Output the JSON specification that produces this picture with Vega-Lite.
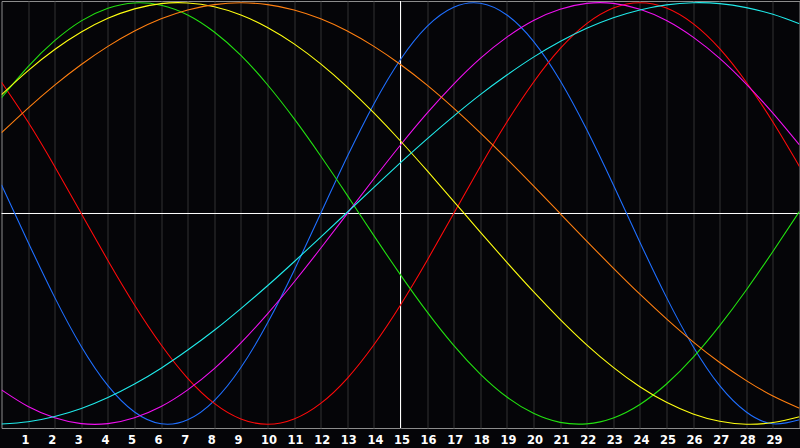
{
  "$schema": "https://vega.github.io/schema/vega-lite/v6.json",
  "width": 798,
  "height": 427,
  "autosize": {"type": "none"},
  "padding": {"left": 1.5, "top": 1, "right": 0.5, "bottom": 20},
  "background": "#050508",
  "config": {
    "view": {"stroke": "#8c8c8c", "strokeWidth": 1},
    "axisX": {
      "grid": true,
      "gridColor": "#333333",
      "gridWidth": 1,
      "domain": false,
      "ticks": false,
      "tickSize": 0,
      "labelPadding": 6,
      "labelAlign": "left",
      "labelOffset": -7,
      "labelColor": "#ffffff",
      "labelFont": "DejaVu Sans",
      "labelFontWeight": "bold",
      "labelFontSize": 11.5,
      "labelOverlap": false,
      "labelFlush": false,
      "labelBound": false,
      "title": null
    }
  },
  "datasets": {
    "cycles": [
      {"c":"physical","d":0,"v":0.136},{"c":"physical","d":1,"v":-0.136},{"c":"physical","d":2,"v":-0.398},{"c":"physical","d":3,"v":-0.631},{"c":"physical","d":4,"v":-0.817},{"c":"physical","d":5,"v":-0.942},{"c":"physical","d":6,"v":-0.998},{"c":"physical","d":7,"v":-0.979},{"c":"physical","d":8,"v":-0.888},{"c":"physical","d":9,"v":-0.731},{"c":"physical","d":10,"v":-0.520},{"c":"physical","d":11,"v":-0.270},{"c":"physical","d":12,"v":0.000},{"c":"physical","d":13,"v":0.270},{"c":"physical","d":14,"v":0.520},{"c":"physical","d":15,"v":0.731},{"c":"physical","d":16,"v":0.888},{"c":"physical","d":17,"v":0.979},{"c":"physical","d":18,"v":0.998},{"c":"physical","d":19,"v":0.942},{"c":"physical","d":20,"v":0.817},{"c":"physical","d":21,"v":0.631},{"c":"physical","d":22,"v":0.398},{"c":"physical","d":23,"v":0.136},{"c":"physical","d":24,"v":-0.136},{"c":"physical","d":25,"v":-0.398},{"c":"physical","d":26,"v":-0.631},{"c":"physical","d":27,"v":-0.817},{"c":"physical","d":28,"v":-0.942},{"c":"physical","d":29,"v":-0.998},{"c":"physical","d":30,"v":-0.979},
      {"c":"emotional","d":0,"v":0.623},{"c":"emotional","d":1,"v":0.434},{"c":"emotional","d":2,"v":0.223},{"c":"emotional","d":3,"v":0.000},{"c":"emotional","d":4,"v":-0.223},{"c":"emotional","d":5,"v":-0.434},{"c":"emotional","d":6,"v":-0.623},{"c":"emotional","d":7,"v":-0.782},{"c":"emotional","d":8,"v":-0.901},{"c":"emotional","d":9,"v":-0.975},{"c":"emotional","d":10,"v":-1.000},{"c":"emotional","d":11,"v":-0.975},{"c":"emotional","d":12,"v":-0.901},{"c":"emotional","d":13,"v":-0.782},{"c":"emotional","d":14,"v":-0.623},{"c":"emotional","d":15,"v":-0.434},{"c":"emotional","d":16,"v":-0.223},{"c":"emotional","d":17,"v":0.000},{"c":"emotional","d":18,"v":0.223},{"c":"emotional","d":19,"v":0.434},{"c":"emotional","d":20,"v":0.623},{"c":"emotional","d":21,"v":0.782},{"c":"emotional","d":22,"v":0.901},{"c":"emotional","d":23,"v":0.975},{"c":"emotional","d":24,"v":1.000},{"c":"emotional","d":25,"v":0.975},{"c":"emotional","d":26,"v":0.901},{"c":"emotional","d":27,"v":0.782},{"c":"emotional","d":28,"v":0.623},{"c":"emotional","d":29,"v":0.434},{"c":"emotional","d":30,"v":0.223},
      {"c":"intellectual","d":0,"v":0.549},{"c":"intellectual","d":1,"v":0.697},{"c":"intellectual","d":2,"v":0.820},{"c":"intellectual","d":3,"v":0.914},{"c":"intellectual","d":4,"v":0.974},{"c":"intellectual","d":5,"v":0.999},{"c":"intellectual","d":6,"v":0.988},{"c":"intellectual","d":7,"v":0.942},{"c":"intellectual","d":8,"v":0.861},{"c":"intellectual","d":9,"v":0.750},{"c":"intellectual","d":10,"v":0.611},{"c":"intellectual","d":11,"v":0.450},{"c":"intellectual","d":12,"v":0.273},{"c":"intellectual","d":13,"v":0.086},{"c":"intellectual","d":14,"v":-0.105},{"c":"intellectual","d":15,"v":-0.291},{"c":"intellectual","d":16,"v":-0.467},{"c":"intellectual","d":17,"v":-0.626},{"c":"intellectual","d":18,"v":-0.762},{"c":"intellectual","d":19,"v":-0.871},{"c":"intellectual","d":20,"v":-0.948},{"c":"intellectual","d":21,"v":-0.991},{"c":"intellectual","d":22,"v":-0.998},{"c":"intellectual","d":23,"v":-0.970},{"c":"intellectual","d":24,"v":-0.906},{"c":"intellectual","d":25,"v":-0.809},{"c":"intellectual","d":26,"v":-0.683},{"c":"intellectual","d":27,"v":-0.532},{"c":"intellectual","d":28,"v":-0.363},{"c":"intellectual","d":29,"v":-0.180},{"c":"intellectual","d":30,"v":0.010},
      {"c":"intuitive","d":0,"v":-0.837},{"c":"intuitive","d":1,"v":-0.916},{"c":"intuitive","d":2,"v":-0.969},{"c":"intuitive","d":3,"v":-0.997},{"c":"intuitive","d":4,"v":-0.997},{"c":"intuitive","d":5,"v":-0.969},{"c":"intuitive","d":6,"v":-0.916},{"c":"intuitive","d":7,"v":-0.837},{"c":"intuitive","d":8,"v":-0.736},{"c":"intuitive","d":9,"v":-0.614},{"c":"intuitive","d":10,"v":-0.476},{"c":"intuitive","d":11,"v":-0.325},{"c":"intuitive","d":12,"v":-0.165},{"c":"intuitive","d":13,"v":0.000},{"c":"intuitive","d":14,"v":0.165},{"c":"intuitive","d":15,"v":0.325},{"c":"intuitive","d":16,"v":0.476},{"c":"intuitive","d":17,"v":0.614},{"c":"intuitive","d":18,"v":0.736},{"c":"intuitive","d":19,"v":0.837},{"c":"intuitive","d":20,"v":0.916},{"c":"intuitive","d":21,"v":0.969},{"c":"intuitive","d":22,"v":0.997},{"c":"intuitive","d":23,"v":0.997},{"c":"intuitive","d":24,"v":0.969},{"c":"intuitive","d":25,"v":0.916},{"c":"intuitive","d":26,"v":0.837},{"c":"intuitive","d":27,"v":0.736},{"c":"intuitive","d":28,"v":0.614},{"c":"intuitive","d":29,"v":0.476},{"c":"intuitive","d":30,"v":0.325},
      {"c":"aesthetic","d":0,"v":0.564},{"c":"aesthetic","d":1,"v":0.678},{"c":"aesthetic","d":2,"v":0.778},{"c":"aesthetic","d":3,"v":0.861},{"c":"aesthetic","d":4,"v":0.926},{"c":"aesthetic","d":5,"v":0.971},{"c":"aesthetic","d":6,"v":0.996},{"c":"aesthetic","d":7,"v":0.999},{"c":"aesthetic","d":8,"v":0.981},{"c":"aesthetic","d":9,"v":0.942},{"c":"aesthetic","d":10,"v":0.883},{"c":"aesthetic","d":11,"v":0.805},{"c":"aesthetic","d":12,"v":0.710},{"c":"aesthetic","d":13,"v":0.600},{"c":"aesthetic","d":14,"v":0.477},{"c":"aesthetic","d":15,"v":0.344},{"c":"aesthetic","d":16,"v":0.203},{"c":"aesthetic","d":17,"v":0.058},{"c":"aesthetic","d":18,"v":-0.088},{"c":"aesthetic","d":19,"v":-0.232},{"c":"aesthetic","d":20,"v":-0.371},{"c":"aesthetic","d":21,"v":-0.502},{"c":"aesthetic","d":22,"v":-0.623},{"c":"aesthetic","d":23,"v":-0.730},{"c":"aesthetic","d":24,"v":-0.822},{"c":"aesthetic","d":25,"v":-0.896},{"c":"aesthetic","d":26,"v":-0.951},{"c":"aesthetic","d":27,"v":-0.986},{"c":"aesthetic","d":28,"v":-1.000},{"c":"aesthetic","d":29,"v":-0.992},{"c":"aesthetic","d":30,"v":-0.964},
      {"c":"awareness","d":0,"v":0.383},{"c":"awareness","d":1,"v":0.500},{"c":"awareness","d":2,"v":0.609},{"c":"awareness","d":3,"v":0.707},{"c":"awareness","d":4,"v":0.793},{"c":"awareness","d":5,"v":0.866},{"c":"awareness","d":6,"v":0.924},{"c":"awareness","d":7,"v":0.966},{"c":"awareness","d":8,"v":0.991},{"c":"awareness","d":9,"v":1.000},{"c":"awareness","d":10,"v":0.991},{"c":"awareness","d":11,"v":0.966},{"c":"awareness","d":12,"v":0.924},{"c":"awareness","d":13,"v":0.866},{"c":"awareness","d":14,"v":0.793},{"c":"awareness","d":15,"v":0.707},{"c":"awareness","d":16,"v":0.609},{"c":"awareness","d":17,"v":0.500},{"c":"awareness","d":18,"v":0.383},{"c":"awareness","d":19,"v":0.259},{"c":"awareness","d":20,"v":0.131},{"c":"awareness","d":21,"v":0.000},{"c":"awareness","d":22,"v":-0.131},{"c":"awareness","d":23,"v":-0.259},{"c":"awareness","d":24,"v":-0.383},{"c":"awareness","d":25,"v":-0.500},{"c":"awareness","d":26,"v":-0.609},{"c":"awareness","d":27,"v":-0.707},{"c":"awareness","d":28,"v":-0.793},{"c":"awareness","d":29,"v":-0.866},{"c":"awareness","d":30,"v":-0.924},
      {"c":"spiritual","d":0,"v":-0.999},{"c":"spiritual","d":1,"v":-0.988},{"c":"spiritual","d":2,"v":-0.963},{"c":"spiritual","d":3,"v":-0.925},{"c":"spiritual","d":4,"v":-0.873},{"c":"spiritual","d":5,"v":-0.809},{"c":"spiritual","d":6,"v":-0.734},{"c":"spiritual","d":7,"v":-0.648},{"c":"spiritual","d":8,"v":-0.554},{"c":"spiritual","d":9,"v":-0.451},{"c":"spiritual","d":10,"v":-0.343},{"c":"spiritual","d":11,"v":-0.229},{"c":"spiritual","d":12,"v":-0.112},{"c":"spiritual","d":13,"v":0.006},{"c":"spiritual","d":14,"v":0.124},{"c":"spiritual","d":15,"v":0.241},{"c":"spiritual","d":16,"v":0.354},{"c":"spiritual","d":17,"v":0.462},{"c":"spiritual","d":18,"v":0.564},{"c":"spiritual","d":19,"v":0.657},{"c":"spiritual","d":20,"v":0.742},{"c":"spiritual","d":21,"v":0.816},{"c":"spiritual","d":22,"v":0.879},{"c":"spiritual","d":23,"v":0.929},{"c":"spiritual","d":24,"v":0.966},{"c":"spiritual","d":25,"v":0.990},{"c":"spiritual","d":26,"v":1.000},{"c":"spiritual","d":27,"v":0.996},{"c":"spiritual","d":28,"v":0.977},{"c":"spiritual","d":29,"v":0.945},{"c":"spiritual","d":30,"v":0.900}
    ]
  },
  "layer": [
    {
      "data": {"values": [{"v": 0}]},
      "mark": {"type": "rule", "color": "#ffffff", "strokeWidth": 1},
      "encoding": {
        "y": {"field": "v", "type": "quantitative", "scale": {"domain": [-1.0178, 1.0083], "nice": false, "zero": false}, "axis": null}
      }
    },
    {
      "data": {"values": [{"d": 15}]},
      "mark": {"type": "rule", "color": "#ffffff", "strokeWidth": 1},
      "encoding": {
        "x": {
          "field": "d",
          "type": "quantitative",
          "scale": {"domain": [0, 30], "nice": false, "zero": false},
          "axis": {"values": [1,2,3,4,5,6,7,8,9,10,11,12,13,14,15,16,17,18,19,20,21,22,23,24,25,26,27,28,29], "labelOverlap": false}
        }
      }
    },
    {
      "data": {"name": "cycles"},
      "mark": {"type": "line", "strokeWidth": 1.1, "interpolate": "natural", "clip": true},
      "encoding": {
        "x": {
          "field": "d",
          "type": "quantitative",
          "scale": {"domain": [0, 30], "nice": false, "zero": false},
          "axis": {"values": [1,2,3,4,5,6,7,8,9,10,11,12,13,14,15,16,17,18,19,20,21,22,23,24,25,26,27,28,29], "labelOverlap": false}
        },
        "y": {"field": "v", "type": "quantitative", "scale": {"domain": [-1.0178, 1.0083], "nice": false, "zero": false}, "axis": null},
        "color": {
          "field": "c",
          "type": "nominal",
          "scale": {
            "domain": ["physical", "emotional", "intellectual", "intuitive", "aesthetic", "awareness", "spiritual"],
            "range": ["#1f6fff", "#ff0a0a", "#22e010", "#f010f0", "#ffff10", "#ff7f10", "#20eaea"]
          },
          "legend": null
        }
      }
    }
  ]
}
